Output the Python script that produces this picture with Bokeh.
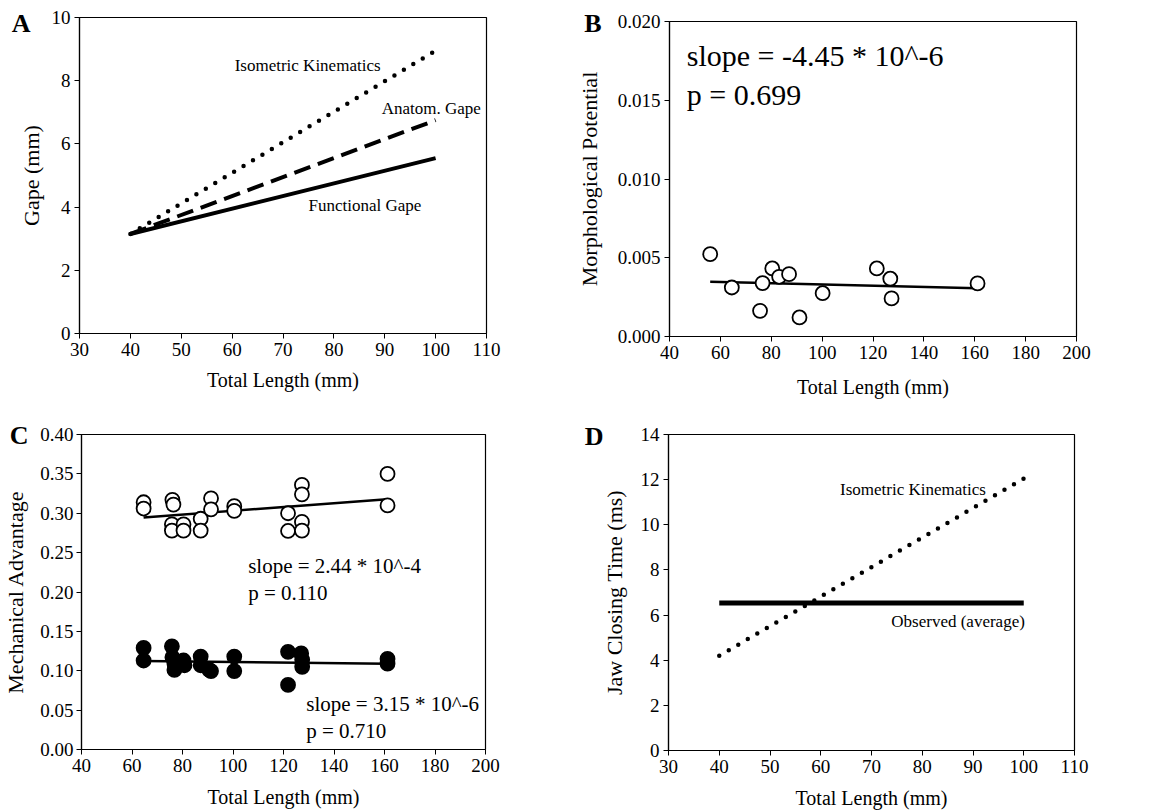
from bokeh.plotting import figure
from bokeh.models import (FixedTicker, PrintfTickFormatter, Label, Range1d, LinearAxis,
                          CustomJSTickFormatter)
from bokeh.layouts import column, row
from bokeh.embed import file_html
from bokeh.resources import INLINE

FONT = "Liberation Serif"

# ---------------- data ----------------
# Panel A: gape vs total length
a_x = [40, 100]
a_functional = [3.15, 5.55]
a_anatom = [3.15, 6.75]
a_isometric = [3.15, 8.95]

# Panel B: morphological potential
b_len = [56.0, 64.5, 75.6, 76.6, 80.4, 83.1, 87.0, 91.1, 100.2, 121.5, 126.8, 127.3, 161.1]
b_mp = [0.00523, 0.00311, 0.00163, 0.00339, 0.00432, 0.00379, 0.00396, 0.00121,
        0.00275, 0.00432, 0.00367, 0.00242, 0.00337]
b_fit_x = [56, 161]
b_fit_y = [0.00347, 0.00307]

# Panel C: mechanical advantage (open = closing, filled = opening)
c_open_len = [64.6, 64.6, 76.0, 76.4, 75.8, 75.8, 80.4, 80.4, 87.2, 87.2, 91.3, 91.3,
              100.5, 100.5, 121.8, 121.8, 127.3, 127.3, 127.3, 127.3, 161.2, 161.2]
c_open_ma = [0.314, 0.306, 0.317, 0.311, 0.286, 0.278, 0.286, 0.278, 0.293, 0.278, 0.319, 0.305,
             0.309, 0.303, 0.300, 0.2775, 0.336, 0.324, 0.289, 0.278, 0.350, 0.310]
c_fill_len = [64.6, 64.6, 75.8, 76.0, 76.8, 76.8, 80.4, 80.8, 87.2, 87.2, 91.3, 90.6,
              100.5, 100.5, 121.8, 121.8, 127.0, 127.4, 127.4, 161.2, 161.2]
c_fill_ma = [0.129, 0.113, 0.131, 0.117, 0.109, 0.101, 0.113, 0.107, 0.118, 0.107, 0.0996, 0.101,
             0.118, 0.0996, 0.124, 0.082, 0.122, 0.114, 0.105, 0.115, 0.109]
c_open_fit_x = [64.6, 161]
c_open_fit_y = [0.2945, 0.3178]
c_fill_fit_x = [64.6, 161]
c_fill_fit_y = [0.1123, 0.1089]

# Panel D: jaw closing time
d_x = [40, 100]
d_isometric = [4.2, 12.05]
d_observed = [6.53, 6.53]


def make_fig(width, height, xr, yr, borders, xticks, yticks, yfmt, xlabel, ylabel,
             ylab_standoff, xlab_standoff):
    p = figure(width=width, height=height, x_range=Range1d(*xr), y_range=Range1d(*yr),
               output_backend="svg", toolbar_location=None,
               min_border_left=borders[0], min_border_right=borders[1],
               min_border_top=borders[2], min_border_bottom=borders[3])
    p.grid.visible = False
    p.background_fill_color = "white"
    p.border_fill_color = "white"
    p.outline_line_color = "black"
    p.outline_line_width = 1.2
    for ax in (p.xaxis[0], p.yaxis[0]):
        ax.axis_line_color = "black"
        ax.axis_line_width = 1.2
        ax.major_tick_line_color = "black"
        ax.major_tick_in = 0
        ax.major_tick_out = 5
        ax.minor_tick_line_color = None
        ax.major_label_text_font = FONT
        ax.major_label_text_font_size = "19px"
        ax.major_label_text_color = "black"
        ax.axis_label_text_font = FONT
        ax.axis_label_text_font_style = "normal"
        ax.axis_label_text_color = "black"
        ax.major_label_standoff = 4
    p.xaxis.axis_label_text_font_size = "20px"
    p.yaxis.axis_label_text_font_size = "22px"
    p.xaxis.ticker = FixedTicker(ticks=xticks)
    p.yaxis.ticker = FixedTicker(ticks=yticks)
    if yfmt:
        p.yaxis.formatter = PrintfTickFormatter(format=yfmt)
    p.xaxis.axis_label = xlabel
    p.yaxis.axis_label = ylabel
    p.yaxis.axis_label_standoff = ylab_standoff
    p.xaxis.axis_label_standoff = xlab_standoff
    return p


def letter(p, txt, yval, standoff):
    # panel letter drawn as the single label of an extra, otherwise invisible, left axis
    ax = LinearAxis(ticker=FixedTicker(ticks=[yval]),
                    formatter=CustomJSTickFormatter(code="return '%s';" % txt),
                    axis_line_color=None, major_tick_line_color=None,
                    minor_tick_line_color=None, major_tick_in=0, major_tick_out=0,
                    major_label_standoff=standoff,
                    major_label_text_font=FONT, major_label_text_font_size="26px",
                    major_label_text_font_style="bold", major_label_text_color="black")
    p.add_layout(ax, "left")


def note(p, txt, x, y, size, baseline="alphabetic"):
    p.add_layout(Label(x=x, y=y, text=txt, text_font=FONT, text_font_size=size,
                       text_baseline=baseline, text_color="black"))


# ---------------- Panel A ----------------
pa = make_fig(570, 400, (30, 110), (0, 10), (79, 84, 17, 67),
              list(range(30, 111, 10)), list(range(0, 11, 2)), None,
              "Total Length (mm)", "Gape (mm)", 5, 10)
pa.line(a_x, a_isometric, line_color="black", line_width=4.5, line_dash="0 11", line_cap="round")
pa.line(a_x, a_anatom, line_color="black", line_width=4, line_dash="17 8")
pa.line(a_x, a_functional, line_color="black", line_width=4)
note(pa, "Isometric Kinematics", 60.5, 8.48, "17px", "middle")
note(pa, "Anatom. Gape", 89.4, 7.12, "17px", "middle")
note(pa, "Functional Gape", 75.0, 4.05, "17px", "middle")
letter(pa, "A", 9.80, -15)

# ---------------- Panel B ----------------
pb = make_fig(580, 400, (40, 200), (0, 0.020), (99, 74, 21, 64),
              list(range(40, 201, 20)), [0, 0.005, 0.010, 0.015, 0.020], "%.3f",
              "Total Length (mm)", "Morphological Potential", 13, 14)
pb.line(b_fit_x, b_fit_y, line_color="black", line_width=2.5)
pb.scatter(b_len, b_mp, marker="circle", size=14, fill_color="white",
           line_color="black", line_width=1.8)
note(pb, "slope = -4.45 * 10^-6", 46.8, 0.01784, "30px")
note(pb, "p = 0.699", 46.8, 0.01534, "30px")
letter(pb, "B", 0.01990, -28)

# ---------------- Panel C ----------------
pc = make_fig(570, 411, (40, 200), (0, 0.40), (79, 85, 34, 62),
              list(range(40, 201, 20)), [i * 0.05 for i in range(9)], "%.2f",
              "Total Length (mm)", "Mechanical Advantage", 9, 11)
pc.yaxis[0].major_label_standoff = 3
pc.line(c_open_fit_x, c_open_fit_y, line_color="black", line_width=2.5)
pc.line(c_fill_fit_x, c_fill_fit_y, line_color="black", line_width=2.5)
pc.scatter(c_open_len, c_open_ma, marker="circle", size=14, fill_color="white",
           line_color="black", line_width=1.8)
pc.scatter(c_fill_len, c_fill_ma, marker="circle", size=14, fill_color="black",
           line_color="black", line_width=1.8)
note(pc, "slope = 2.44 * 10^-4", 106.0, 0.233, "21px")
note(pc, "p = 0.110", 106.0, 0.1987, "21px")
note(pc, "slope = 3.15 * 10^-6", 129.0, 0.058, "21px")
note(pc, "p = 0.710", 129.0, 0.0233, "21px")
letter(pc, "C", 0.3990, -28)

# ---------------- Panel D ----------------
pd_ = make_fig(580, 411, (30, 110), (0, 14), (98, 76, 34, 61),
               list(range(30, 111, 10)), list(range(0, 15, 2)), None,
               "Total Length (mm)", "Jaw Closing Time (ms)", 11, 11)
pd_.line(d_x, d_observed, line_color="black", line_width=5)
pd_.line(d_x, d_isometric, line_color="black", line_width=4.5, line_dash="0 11", line_cap="round")
note(pd_, "Isometric Kinematics", 63.8, 11.56, "17px", "middle")
note(pd_, "Observed (average)", 73.9, 5.72, "17px", "middle")
letter(pd_, "D", 13.89, -5)

layout = column(row(column(pa), column(pb), spacing=0), row(column(pc), column(pd_), spacing=0), spacing=0)

open("out.html", "w").write(file_html(layout, INLINE))
